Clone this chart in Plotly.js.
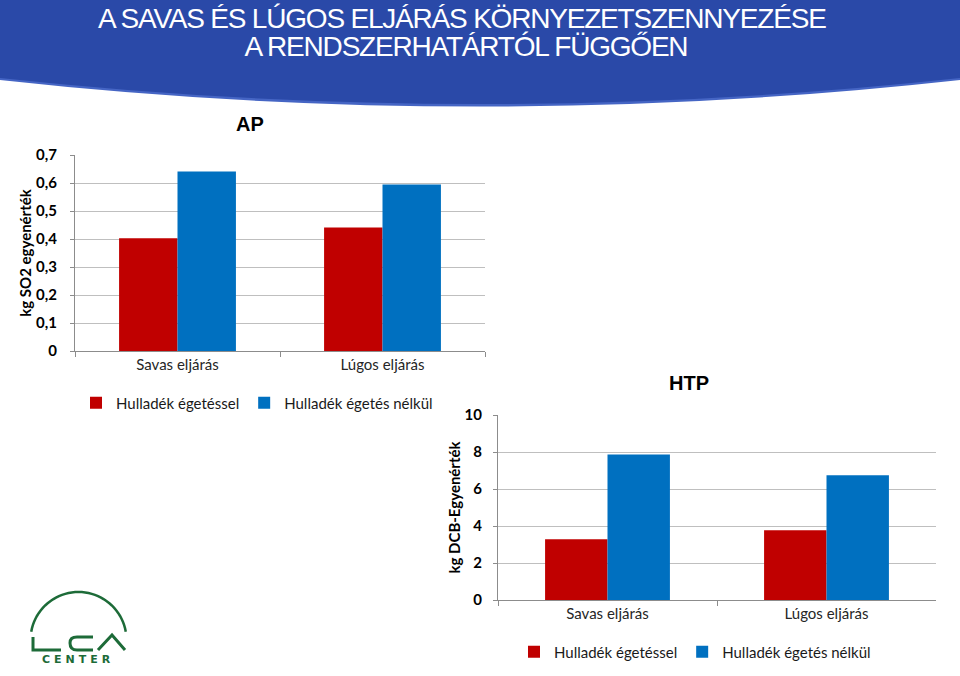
<!DOCTYPE html>
<html>
<head>
<meta charset="utf-8">
<script src="https://cdn.plot.ly/plotly-3.0.1.min.js"></script>
<style>html,body{margin:0;padding:0;background:#fff;}#chart{width:960px;height:676px;}</style>
</head>
<body>
<div id="chart"></div>
<script>
// ---- data ----
const categories = ["Savas eljárás", "Lúgos eljárás"];
const seriesNames = ["Hulladék égetéssel", "Hulladék égetés nélkül"];
const apWithIncineration = [0.403, 0.441];
const apWithoutIncineration = [0.641, 0.595];
const htpWithIncineration = [3.28, 3.77];
const htpWithoutIncineration = [7.87, 6.74];
const apTicks = [0, 0.1, 0.2, 0.3, 0.4, 0.5, 0.6, 0.7];
const htpTicks = [0, 2, 4, 6, 8, 10];

const W = 960, H = 676;
const px = x => x / W;
const py = y => 1 - y / H;
const P = (x, y) => px(x).toFixed(5) + ',' + py(y).toFixed(5);

const RED = '#c00000', BLUE = '#0070c0', GREEN = '#1d6b38';
const FONT = 'Lato, "Open Sans", sans-serif';

const traces = [
  {type:'bar', x:categories, y:apWithIncineration, name:seriesNames[0], marker:{color:RED}, xaxis:'x', yaxis:'y', legend:'legend'},
  {type:'bar', x:categories, y:apWithoutIncineration, name:seriesNames[1], marker:{color:BLUE}, xaxis:'x', yaxis:'y', legend:'legend'},
  {type:'bar', x:categories, y:htpWithIncineration, name:seriesNames[0], marker:{color:RED}, xaxis:'x2', yaxis:'y2', legend:'legend2'},
  {type:'bar', x:categories, y:htpWithoutIncineration, name:seriesNames[1], marker:{color:BLUE}, xaxis:'x2', yaxis:'y2', legend:'legend2'}
];

// banner path (quadratic curve bottom)
const banner = 'M ' + P(0,0) + ' L ' + P(960,0) + ' L ' + P(960,78) + ' Q ' + P(480,130) + ' ' + P(0,78) + ' Z';
const bannerLight = 'M ' + P(0,60) + ' L ' + P(960,60) + ' L ' + P(960,80) + ' Q ' + P(480,133) + ' ' + P(0,80) + ' Z';

// logo arc
let arc = '';
const cx = 78.5, cy = 640, r = 48;
for (let a = 170; a >= 10; a -= 4) {
  const rad = a * Math.PI / 180;
  const x = cx + r * Math.cos(rad), y = cy - r * Math.sin(rad);
  arc += (arc ? ' L ' : 'M ') + P(x, y);
}
const logoL = 'M ' + P(33,637) + ' L ' + P(33,650) + ' L ' + P(61,650);
const logoC = 'M ' + P(93,637) + ' L ' + P(77,637) + ' Q ' + P(70,637) + ' ' + P(70,643) + ' Q ' + P(70,650) + ' ' + P(77,650) + ' L ' + P(93,650);
const logoA = 'M ' + P(98,650) + ' L ' + P(112,635) + ' L ' + P(125,650);

const tickFont = {family: FONT, size: 15, color: '#000', weight: 'bold'};
const catFont = {family: FONT, size: 15, color: '#262626'};

const layout = {
  width: W, height: H,
  margin: {l:0, r:0, t:0, b:0},
  paper_bgcolor: '#fff', plot_bgcolor: 'rgba(0,0,0,0)',
  separators: ',.',
  barmode: 'group', bargap: 0.43, bargroupgap: 0,
  font: {family: FONT},
  xaxis: {domain:[px(75), px(485)], anchor:'y', type:'category', tickfont:catFont,
    showline:true, linecolor:'#8c8c8c', ticks:'outside', tickson:'boundaries', ticklen:5, tickcolor:'#8c8c8c', showgrid:false, fixedrange:true},
  yaxis: {domain:[py(351), py(155)], anchor:'x', range:[0,0.7], tickvals:apTicks,
    ticktext: apTicks.map(v => v === 0 ? '0' : v.toFixed(1).replace('.', ',')),
    tickmode:'array', tickfont:tickFont, showline:true, linecolor:'#8c8c8c', ticks:'outside', ticklen:4, tickcolor:'#8c8c8c',
    ticklabelstandoff:10, showgrid:true, gridcolor:'#bfbfbf', zeroline:false,
    title:{text:'kg SO2 egyenérték', font:{family:FONT, size:15, color:'#000', weight:'bold'}, standoff:0}},
  xaxis2: {domain:[px(498), px(936)], anchor:'y2', type:'category', tickfont:catFont,
    showline:true, linecolor:'#8c8c8c', ticks:'outside', tickson:'boundaries', ticklen:5, tickcolor:'#8c8c8c', showgrid:false, fixedrange:true},
  yaxis2: {domain:[py(600), py(415)], anchor:'x2', range:[0,10], tickvals:htpTicks, tickmode:'array',
    tickfont:tickFont, showline:true, linecolor:'#8c8c8c', ticks:'outside', ticklen:4, tickcolor:'#8c8c8c',
    ticklabelstandoff:8, showgrid:true, gridcolor:'#bfbfbf', zeroline:false,
    title:{text:'kg DCB-Egyenérték', font:{family:FONT, size:15, color:'#000', weight:'bold'}, standoff:0}},
  legend: {orientation:'h', x:px(76), y:py(403), xanchor:'left', yanchor:'middle', font:{family:FONT, size:15, color:'#1a1a1a'}, bgcolor:'rgba(0,0,0,0)', traceorder:'normal', itemclick:false},
  legend2: {orientation:'h', x:px(514), y:py(652), xanchor:'left', yanchor:'middle', font:{family:FONT, size:15, color:'#1a1a1a'}, bgcolor:'rgba(0,0,0,0)', traceorder:'normal', itemclick:false},
  shapes: [
    {type:'path', xref:'paper', yref:'paper', path:bannerLight, fillcolor:'#4565c4', line:{width:0}, layer:'below'},
    {type:'path', xref:'paper', yref:'paper', path:banner, fillcolor:'#2a49a8', line:{width:0}, layer:'below'},
    {type:'path', xref:'paper', yref:'paper', path:arc, line:{color:GREEN, width:2.5}},
    {type:'path', xref:'paper', yref:'paper', path:logoL, line:{color:GREEN, width:3}},
    {type:'path', xref:'paper', yref:'paper', path:logoC, line:{color:GREEN, width:3}},
    {type:'path', xref:'paper', yref:'paper', path:logoA, line:{color:GREEN, width:3}}
  ],
  annotations: [
    {xref:'paper', yref:'paper', x:px(462), y:py(18), text:'A SAVAS ÉS LÚGOS ELJÁRÁS KÖRNYEZETSZENNYEZÉSE', showarrow:false,
      font:{family:'"Liberation Sans", Arial, sans-serif', size:28, color:'#fff'}, xanchor:'center', yanchor:'middle', name:'t1'},
    {xref:'paper', yref:'paper', x:px(466), y:py(47), text:'A RENDSZERHATÁRTÓL FÜGGŐEN', showarrow:false,
      font:{family:'"Liberation Sans", Arial, sans-serif', size:28, color:'#fff'}, xanchor:'center', yanchor:'middle', name:'t2'},
    {xref:'paper', yref:'paper', x:px(250), y:py(124), text:'AP', showarrow:false,
      font:{family:'"Liberation Sans", Arial, sans-serif', size:20, color:'#000', weight:'bold'}, xanchor:'center', yanchor:'middle'},
    {xref:'paper', yref:'paper', x:px(689), y:py(383), text:'HTP', showarrow:false,
      font:{family:'"Liberation Sans", Arial, sans-serif', size:20, color:'#000', weight:'bold'}, xanchor:'center', yanchor:'middle'},
    {xref:'paper', yref:'paper', x:px(78), y:py(659), text:'CENTER', showarrow:false,
      font:{family:'"DejaVu Sans", sans-serif', size:11, color:GREEN, weight:'bold'}, xanchor:'center', yanchor:'middle'}
  ]
};

Plotly.newPlot('chart', traces, layout, {displayModeBar:false, staticPlot:true}).then(() => {
  document.querySelectorAll('.annotation-text').forEach(t => {
    const s = t.textContent;
    if (s.startsWith('A SAVAS') || s.startsWith('A RENDSZER')) {
      t.style.letterSpacing = '-1.2px';
    } else if (s === 'CENTER') {
      t.style.letterSpacing = '4px';
    }
  });
});
</script>
</body>
</html>
